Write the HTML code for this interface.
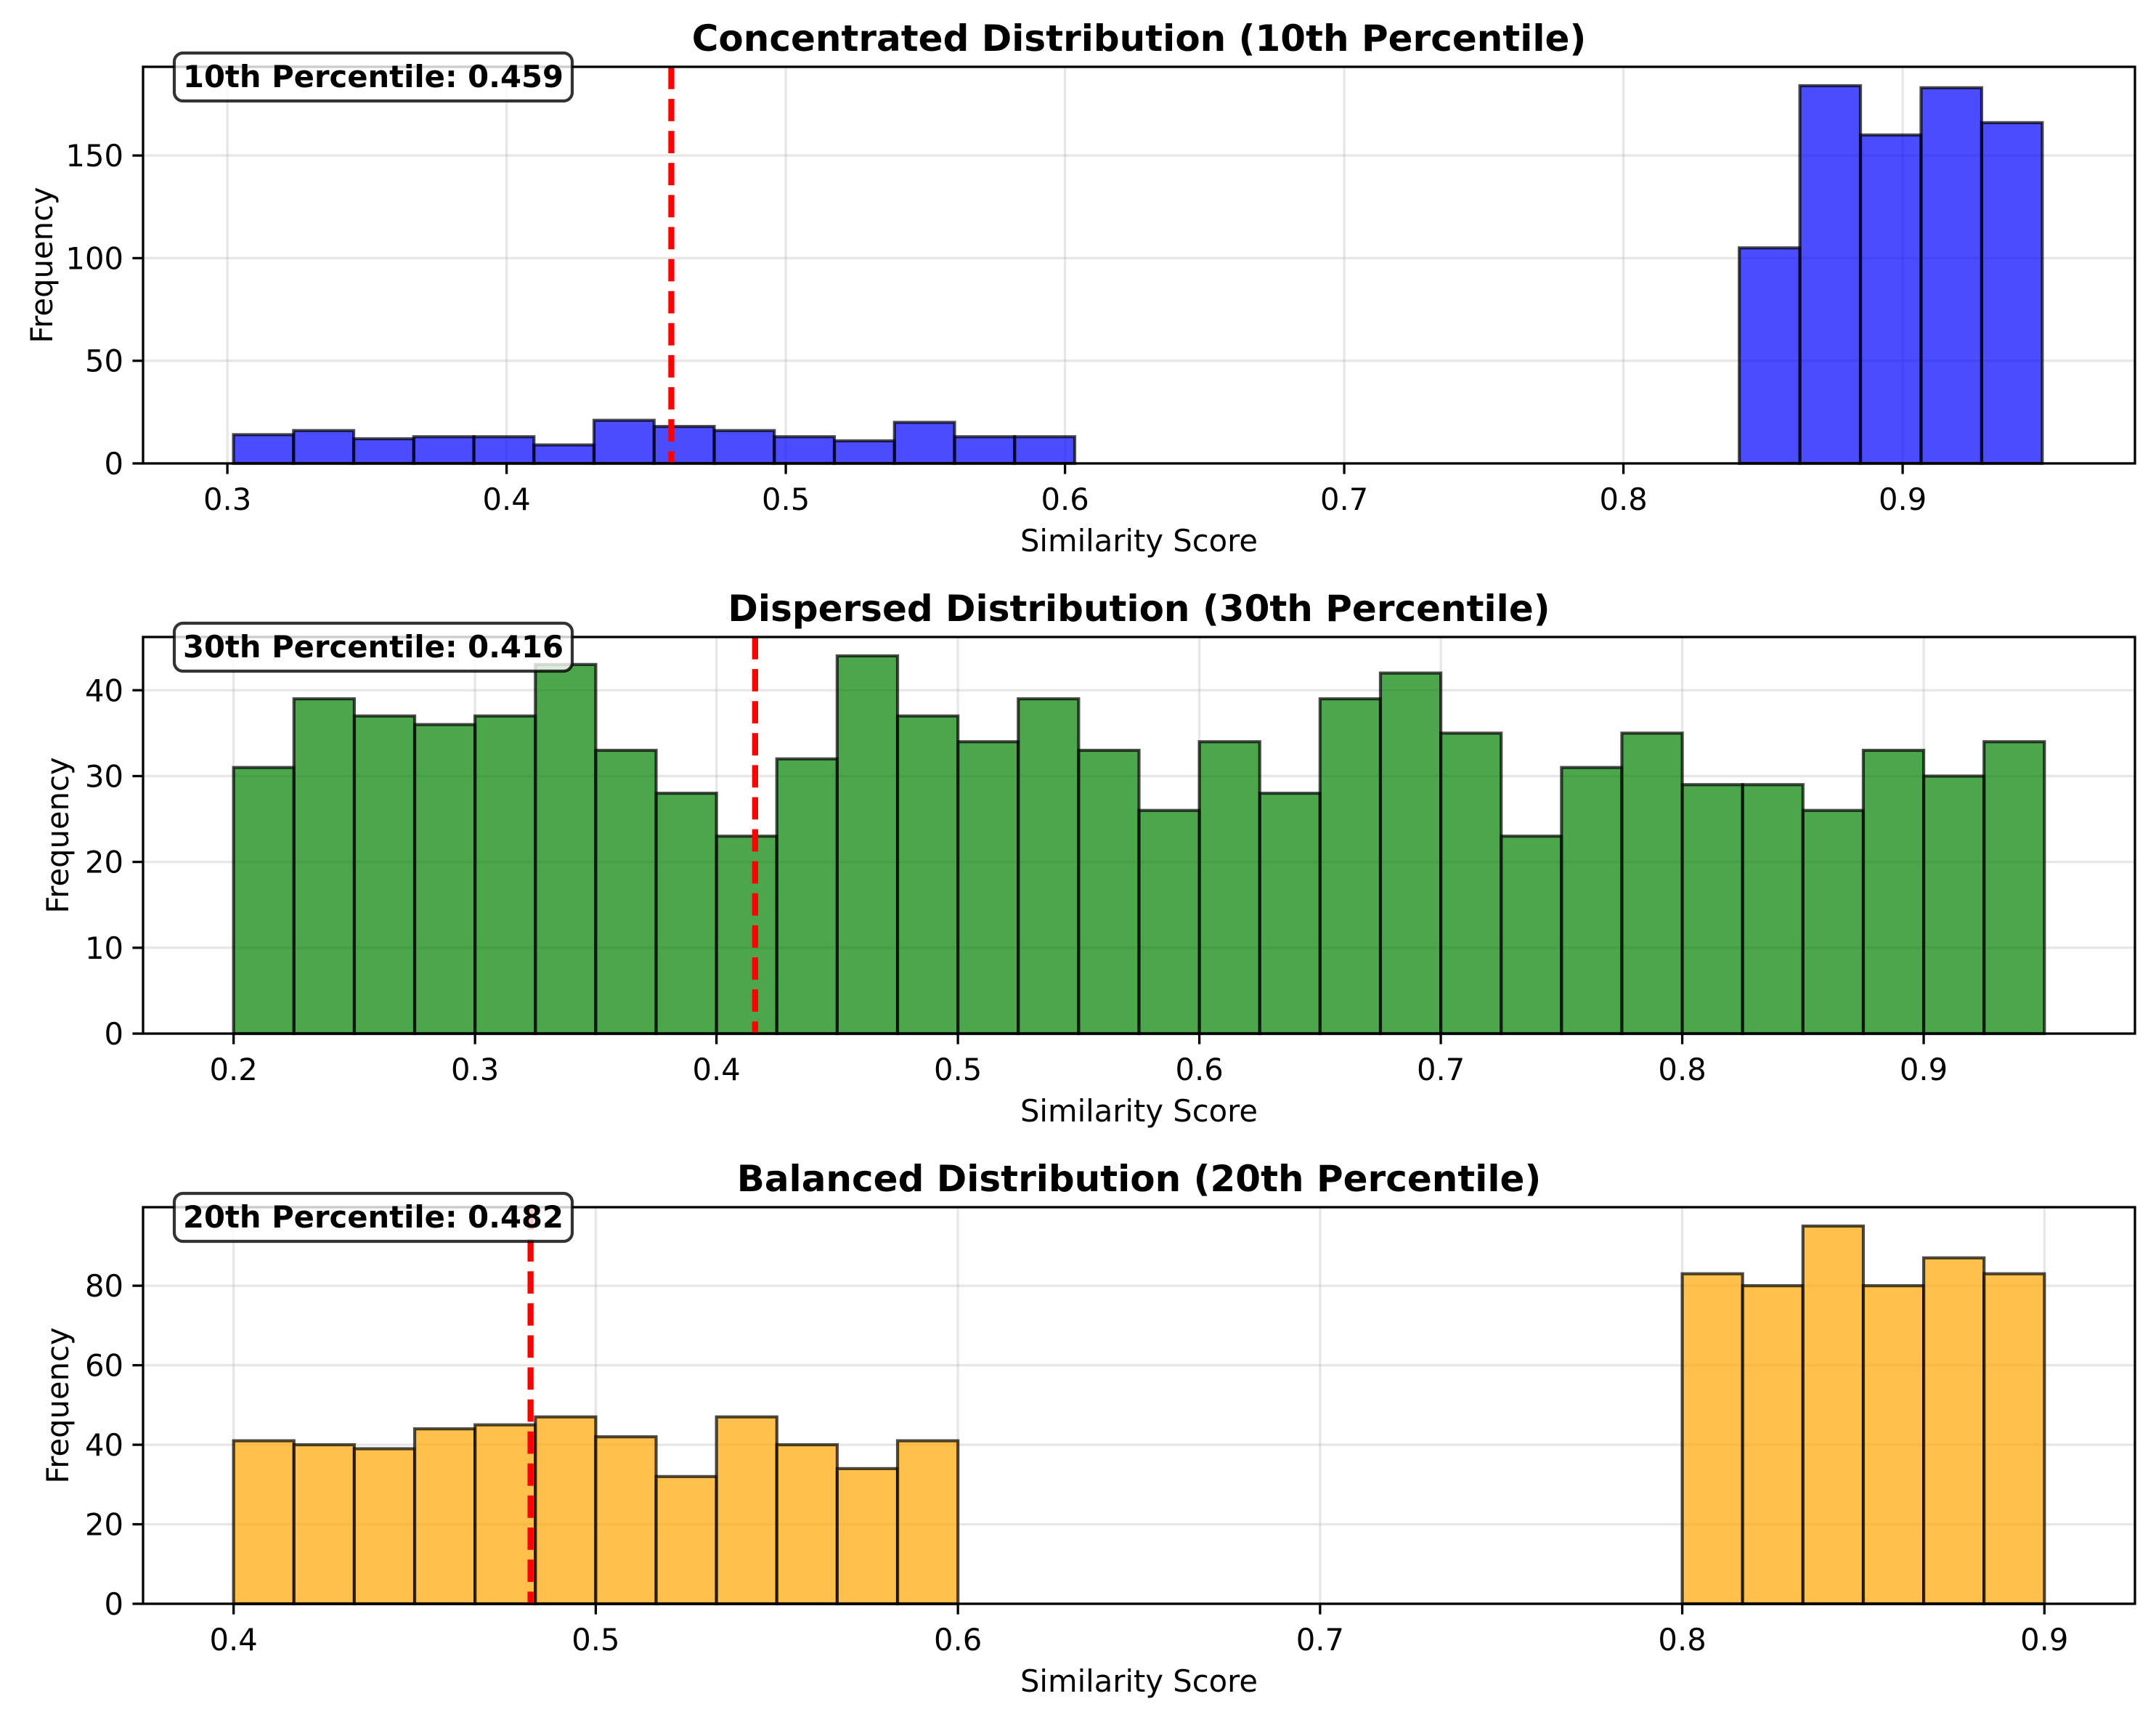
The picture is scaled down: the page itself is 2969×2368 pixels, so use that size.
<!DOCTYPE html>
<html><head><meta charset="utf-8"><style>
html,body{margin:0;padding:0;background:#fff;}
svg{display:block;font-family:"DejaVu Sans","Liberation Sans",sans-serif;}
</style></head><body>
<svg id="fig" xmlns="http://www.w3.org/2000/svg" width="2969" height="2368" viewBox="0 0 2969 2368"></svg>
<script>
// ---- data ----
const p1Starts = [0.3022, 0.8415];
const p1Widths = [0.02152, 0.0217];
const p1CountsA = [14,16,12,13,13,9,21,18,16,13,11,20,13,13];
const p1CountsB = [105,184,160,183,166];
const p1XTicks = [0.3,0.4,0.5,0.6,0.7,0.8,0.9];
const p1YTicks = [0,50,100,150];
const p1Pct = 0.459;

const p2Starts = [0.2];
const p2Widths = [0.025];
const p2Counts = [31,39,37,36,37,43,33,28,23,32,44,37,34,39,33,26,34,28,39,42,35,23,31,35,29,29,26,33,30,34];
const p2XTicks = [0.2,0.3,0.4,0.5,0.6,0.7,0.8,0.9];
const p2YTicks = [0,10,20,30,40];
const p2Pct = 0.416;

const p3Starts = [0.4, 0.8];
const p3Widths = [0.016667, 0.016667];
const p3CountsA = [41,40,39,44,45,47,42,32,47,40,34,41];
const p3CountsB = [83,80,95,80,87,83];
const p3XTicks = [0.4,0.5,0.6,0.7,0.8,0.9];
const p3YTicks = [0,20,40,60,80];
const p3Pct = 0.482;

const NS = "http://www.w3.org/2000/svg";
const svg = document.getElementById('fig');
function mk(tag, attrs, parent){
  const e = document.createElementNS(NS, tag);
  for (const k in attrs) e.setAttribute(k, attrs[k]);
  (parent||svg).appendChild(e);
  return e;
}

function panel(cfg){
  const L=197, R=2940, T=cfg.top, B=cfg.top+546;
  const g = mk('g', {});
  
  
  const sx = v => L + (v - cfg.xmin)/(cfg.xmax - cfg.xmin)*(R-L);
  const sy = v => B - v/cfg.ymax*(B-T);
  // grid
  cfg.xTicks.forEach(t=>{
    const l = mk('line',{x1:sx(t),x2:sx(t),y1:T,y2:B,stroke:'#b0b0b0','stroke-opacity':0.3,'stroke-width':3.3},g);
    
    
  });
  cfg.yTicks.forEach(t=>{
    const l = mk('line',{x1:L,x2:R,y1:sy(t),y2:sy(t),stroke:'#b0b0b0','stroke-opacity':0.3,'stroke-width':3.3},g);
    
    
  });
  // bars
  cfg.groups.forEach((grp,gi)=>{
    grp.counts.forEach((c,i)=>{
      const x0 = sx(grp.start + i*grp.width), x1 = sx(grp.start + (i+1)*grp.width);
      const r = mk('rect',{x:x0,y:sy(c),width:x1-x0,height:B-sy(c),fill:cfg.color,'fill-opacity':0.7,stroke:'#000','stroke-opacity':0.7,'stroke-width':4.2},g);
      
      
    });
  });
  // percentile line
  const pl = mk('line',{x1:sx(cfg.pct),x2:sx(cfg.pct),y1:T,y2:B,stroke:'#ff0000','stroke-width':8.3,'stroke-dasharray':'30.8 13.3'},g);
  
  
  // frame
  const fr = mk('rect',{x:L,y:T,width:R-L,height:B-T,fill:'none',stroke:'#000','stroke-width':3.3},g);
  
  
  // ticks
  cfg.xTicks.forEach(t=>{
    const tk = mk('line',{x1:sx(t),x2:sx(t),y1:B,y2:B+14.6,stroke:'#000','stroke-width':3.3},g);
    
    
    const tx = mk('text',{x:sx(t),y:B+64,'font-size':41.7,'text-anchor':'middle',fill:'#000'},g);
    tx.textContent = t.toFixed(1);
    
    
  });
  cfg.yTicks.forEach(t=>{
    const tk = mk('line',{x1:L-14.6,x2:L,y1:sy(t),y2:sy(t),stroke:'#000','stroke-width':3.3},g);
    
    
    const tx = mk('text',{x:L-27,y:sy(t)+15,'font-size':41.7,'text-anchor':'end',fill:'#000'},g);
    tx.textContent = String(t);
    
    
  });
  // axis labels
  const xl = mk('text',{x:(L+R)/2,y:B+121,'font-size':41.7,'text-anchor':'middle',fill:'#000'},g);
  xl.textContent='Similarity Score';
  
  
  const yx = cfg.ylabX, yy=(T+B)/2;
  const yl = mk('text',{x:yx,y:yy,'font-size':41.7,'text-anchor':'middle',fill:'#000',transform:`rotate(-90 ${yx} ${yy})`},g);
  yl.textContent='Frequency';
  
  
  // title
  const ti = mk('text',{x:(L+R)/2,y:T-22,'font-size':50,'font-weight':'bold','text-anchor':'middle',fill:'#000'},g);
  ti.textContent = cfg.title;
  
  
  // annotation box
  const bx = mk('rect',{x:240,y:T-19,width:548,height:66,rx:12,ry:12,fill:'#fff','fill-opacity':0.8,stroke:'#000','stroke-opacity':0.8,'stroke-width':4.2},g);
  
  
  const at = mk('text',{x:514,y:T+28,'font-size':41.7,'font-weight':'bold','text-anchor':'middle',fill:'#000'},g);
  at.textContent = cfg.annot;
  
  
}

panel({name:'concentrated-panel', top:92, xmin:0.2698, xmax:0.9832, ymax:193.2, color:'#0000ff',
  groups:[{start:p1Starts[0],width:p1Widths[0],counts:p1CountsA},{start:p1Starts[1],width:p1Widths[1],counts:p1CountsB}],
  xTicks:p1XTicks, yTicks:p1YTicks, pct:p1Pct, ylabX:72,
  title:'Concentrated Distribution (10th Percentile)', annot:'10th Percentile: '+p1Pct.toFixed(3)});
panel({name:'dispersed-panel', top:877, xmin:0.1625, xmax:0.9875, ymax:46.2, color:'#008000',
  groups:[{start:p2Starts[0],width:p2Widths[0],counts:p2Counts}],
  xTicks:p2XTicks, yTicks:p2YTicks, pct:p2Pct, ylabX:94,
  title:'Dispersed Distribution (30th Percentile)', annot:'30th Percentile: '+p2Pct.toFixed(3)});
panel({name:'balanced-panel', top:1662, xmin:0.375, xmax:0.925, ymax:99.75, color:'#ffa500',
  groups:[{start:p3Starts[0],width:p3Widths[0],counts:p3CountsA},{start:p3Starts[1],width:p3Widths[1],counts:p3CountsB}],
  xTicks:p3XTicks, yTicks:p3YTicks, pct:p3Pct, ylabX:94,
  title:'Balanced Distribution (20th Percentile)', annot:'20th Percentile: '+p3Pct.toFixed(3)});
</script>
</body></html>
